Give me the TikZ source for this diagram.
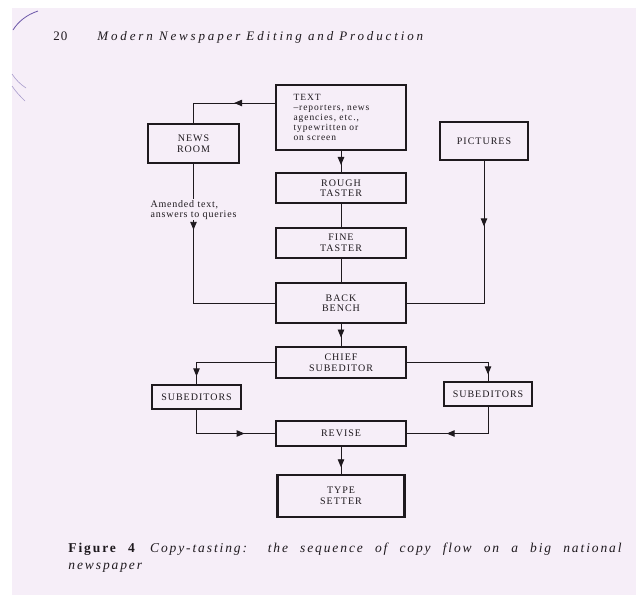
\documentclass[tikz,border=0pt]{standalone}
\usepackage{fontspec}
\setmainfont{Liberation Serif}
\usetikzlibrary{arrows.meta,decorations.markings}
\definecolor{paper}{RGB}{246,238,248}
\definecolor{ink}{RGB}{30,25,30}
\definecolor{pen}{RGB}{110,90,170}

\begin{document}
\begin{tikzpicture}[x=1pt,y=-1pt,>={Triangle[length=8pt,width=6.5pt]},
		line width=0.9pt,color=ink,node distance=60pt,
		box node/.style={draw,line width=1.2pt,minimum width=130pt,minimum height=30pt,align=center,inner sep=2pt,
			font=\fontsize{10}{10.5}\selectfont\addfontfeature{LetterSpace=10}},
		heavy node/.style={box node,line width=2.4pt},
		mid arrow/.style={postaction={decorate},decoration={markings,mark=at position #1 with {\arrow{>}}}}]
		\useasboundingbox (0,0) rectangle (636,595);
		\fill[white] (0,0) rectangle (636,595);
		\fill[paper] (12,8) rectangle (636,595);
		\draw[pen,line width=0.8pt] (13,30) .. controls (18,22) and (26,15) .. (38,11);
		\draw[pen!60,line width=0.6pt] (12,74) .. controls (16,80) and (20,84) .. (26,88);
		\draw[pen!60,line width=0.6pt] (12,86) .. controls (16,92) and (20,96) .. (25,101);
		% page head
		\node[anchor=base west,inner sep=0,font=\fontsize{13}{14}\selectfont\addfontfeature{LetterSpace=8}] (page) at (53,40) {20};
		\node[anchor=base west,inner sep=0,font=\fontsize{13}{14}\selectfont\itshape\addfontfeature{LetterSpace=22}] (title) at (97,40) {Modern Newspaper Editing and Production};
		% copy flow
		\node[heavy node,minimum height=65pt,text width=95pt,align=left,font=\fontsize{9.5}{9.8}\selectfont\addfontfeature{LetterSpace=10}] (text) at (341,117.5)
			{TEXT\\--reporters, news\\agencies, etc.,\\typewritten or\\on screen};
		\node[box node,minimum width=91pt,minimum height=39pt] (room) [node distance=147.5pt,left of=text,yshift=-26pt] {NEWS\\ROOM};
		\node[box node,minimum width=88pt,minimum height=38pt] (pic) [node distance=143pt,right of=text,yshift=-23.5pt] {PICTURES};
		\node[box node] (rough) [node distance=70.5pt,below of=text] {ROUGH\\TASTER};
		\node[box node] (fine) [node distance=55pt,below of=rough] {FINE\\TASTER};
		\node[heavy node,minimum height=40pt] (back) [below of=fine] {BACK\\BENCH};
		\node[box node,minimum height=31pt] (chief) [node distance=59.5pt,below of=back] {CHIEF\\SUBEDITOR};
		\node[box node,minimum width=89pt,minimum height=24pt] (subl) [node distance=144.5pt,left of=chief,yshift=-34.5pt] {SUBEDITORS};
		\node[box node,minimum width=88pt,minimum height=24pt] (subr) [node distance=147pt,right of=chief,yshift=-31.5pt] {SUBEDITORS};
		\node[box node,minimum height=25pt] (revise) [node distance=71pt,below of=chief] {REVISE};
		\node[heavy node,minimum width=127pt,minimum height=42pt] (type) [node distance=62.5pt,below of=revise] {TYPE\\SETTER};
		\draw[mid arrow=0.4] ([yshift=14.5pt]text.west) -| (room.north);
		\draw[mid arrow=0.3] (room.south) |- node[pos=0.165,fill=paper,align=left,inner sep=1pt,
			font=\fontsize{10}{10}\selectfont\addfontfeature{LetterSpace=8}] (amend) {Amended text,\\answers to queries} (back.west);
		\draw[mid arrow=0.3] (pic.south) |- (back.east);
		\draw[mid arrow=0.65] (text) -- (rough);
		\draw (rough) -- (fine) (fine) -- (back);
		\draw[mid arrow=0.6] (back) -- (chief);
		\draw[mid arrow=0.92] (chief.west) -| (subl.north);
		\draw[mid arrow=0.93] (chief.east) -| (subr.north);
		\draw[mid arrow=0.7] (subl.south) |- (revise.west);
		\draw[mid arrow=0.63] (subr.south) |- (revise.east);
		\draw[mid arrow=0.76] (revise) -- (type);
		% caption
		\node[anchor=base west,inner sep=0,font=\fontsize{13.5}{15}\selectfont\addfontfeature{LetterSpace=14}] (cap) at (68,552)
			{\makebox[555pt][s]{\textbf{Figure 4}\quad\textit{Copy-tasting: the sequence of copy flow on a big national}}};
		\node[anchor=base west,inner sep=0,font=\fontsize{13.5}{15}\selectfont\itshape\addfontfeature{LetterSpace=14}] (cap2) at (68,569) {newspaper};
	\end{tikzpicture}
\end{document}
